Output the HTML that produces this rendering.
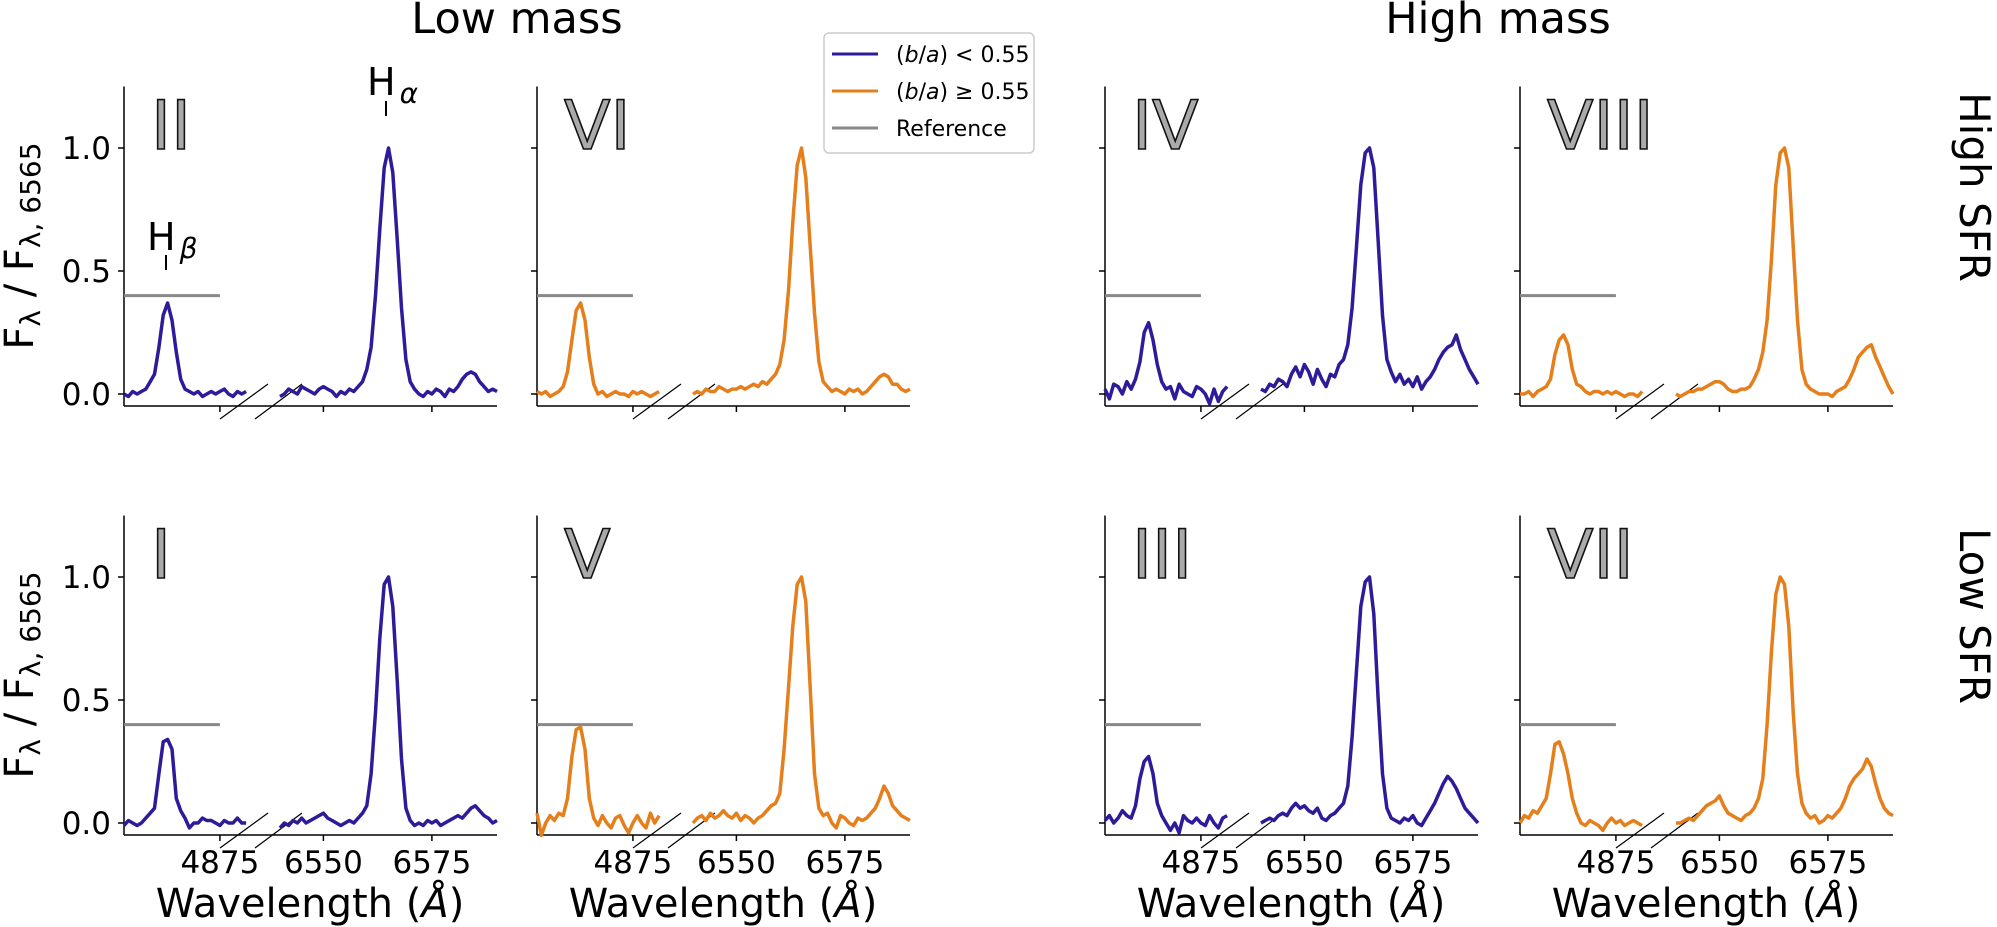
<!DOCTYPE html>
<html><head><meta charset="utf-8"><style>
html,body{margin:0;padding:0;background:#fff;}
svg{display:block;font-family:"DejaVu Sans","Liberation Sans",sans-serif;}
</style></head><body>
<svg id="fig" width="1997" height="927" viewBox="0 0 1997 927" xmlns="http://www.w3.org/2000/svg">
<text x="517" y="33" font-size="43" text-anchor="middle">Low mass</text>
<text x="1498" y="33" font-size="43" text-anchor="middle">High mass</text>
<text transform="translate(1960,187) rotate(90)" font-size="42" text-anchor="middle">High SFR</text>
<text transform="translate(1960,616) rotate(90)" font-size="42" text-anchor="middle">Low SFR</text>
<g transform="translate(45,8)">
<rect x="779" y="25" width="210" height="120" rx="5" fill="#fff" stroke="#ccc" stroke-width="1.5"/>
<line x1="787" y1="46" x2="833" y2="46" stroke="#2d1b9a" stroke-width="3"/>
<text x="851" y="54" font-size="22">(<tspan font-style="italic">b</tspan>/<tspan font-style="italic">a</tspan>) &lt; 0.55</text>
<line x1="787" y1="83" x2="833" y2="83" stroke="#e57f1c" stroke-width="3"/>
<text x="851" y="91" font-size="22">(<tspan font-style="italic">b</tspan>/<tspan font-style="italic">a</tspan>) ≥ 0.55</text>
<line x1="787" y1="120" x2="833" y2="120" stroke="#888" stroke-width="3"/>
<text x="851" y="128" font-size="22">Reference</text>
</g>
<g>
<text x="367" y="95" font-size="38">H<tspan font-size="28" font-style="italic" dx="4" dy="8">α</tspan></text>
<line x1="386" y1="101" x2="386" y2="116" stroke="#000" stroke-width="2"/>
</g>
<g>
<text x="147" y="250" font-size="38">H<tspan font-size="28" font-style="italic" dx="4" dy="8">β</tspan></text>
<line x1="166" y1="255" x2="166" y2="270" stroke="#000" stroke-width="2"/>
</g>
</svg>
<script>
// ---- data ----
const hbStart = 4853;   // first H-beta wavelength (1 Å steps)
const haStart = 6540;   // first H-alpha wavelength (1 Å steps)
const panelNames = ["II","VI","IV","VIII","I","V","III","VII"];
const panelColors = ["blue","orange","blue","orange","blue","orange","blue","orange"];
const yTicks = [0.0, 0.5, 1.0];
const yTickLabels = ["0.0","0.5","1.0"];
const xTicksHb = [4875];
const xTicksHa = [6550, 6575];
const refLevel = 0.4;
const hbII = [0,-0.01,0.01,0,0.01,0.02,0.05,0.08,0.19,0.32,0.37,0.3,0.17,0.06,0.02,0.01,0,0.01,-0.01,0,0.01,0,0.01,0.02,0,-0.01,0.01,0,0.01];
const haII = [-0.01,0,0.02,0.01,0,0.03,0.02,0.01,0.0,0.02,0.03,0.02,0.01,-0.01,0.01,0.0,0.02,0.01,0.03,0.05,0.1,0.19,0.4,0.67,0.92,1.0,0.9,0.63,0.35,0.14,0.05,0.02,0.0,-0.01,0.01,0,0.02,0.01,-0.01,0.02,0.01,0.03,0.06,0.08,0.09,0.08,0.05,0.03,0.01,0.02,0.01];
const hbVI = [0.01,0,0.01,-0.01,0.0,0.01,0.03,0.09,0.22,0.34,0.37,0.3,0.15,0.04,0.0,0.01,-0.01,0,0.01,0,0,-0.01,0.01,0,0.01,0,-0.01,0,0.01];
const haVI = [0,0.01,0,0.02,0.01,0.01,0.03,0.02,0.01,0.02,0.02,0.03,0.02,0.03,0.04,0.03,0.05,0.04,0.06,0.08,0.12,0.22,0.42,0.7,0.93,1.0,0.88,0.6,0.33,0.13,0.05,0.03,0.01,0.02,0.01,0.0,0.02,0.01,0.02,0.0,0.01,0.03,0.05,0.07,0.08,0.07,0.04,0.04,0.02,0.01,0.02];
const hbIV = [0.02,-0.02,0.04,0.03,0.0,0.05,0.02,0.06,0.13,0.25,0.29,0.22,0.12,0.05,0.02,0.03,-0.02,0.04,0.01,0.0,-0.01,0.03,0.02,0.0,-0.04,0.02,-0.03,0.01,0.03];
const haIV = [0.02,0.01,0.04,0.03,0.06,0.05,0.03,0.08,0.11,0.07,0.12,0.09,0.04,0.1,0.06,0.03,0.08,0.07,0.12,0.14,0.2,0.35,0.6,0.85,0.98,1.0,0.92,0.62,0.32,0.14,0.09,0.05,0.08,0.04,0.06,0.03,0.07,0.02,0.05,0.07,0.1,0.14,0.17,0.19,0.2,0.24,0.18,0.14,0.1,0.07,0.04];
const hbVIII = [0,0.0,0.01,-0.01,0.01,0.02,0.03,0.06,0.16,0.22,0.24,0.2,0.1,0.04,0.03,0.01,0.0,0.01,0.01,0,0.01,0.0,0.01,0,-0.01,0.0,0.0,-0.01,0.01];
const haVIII = [0,-0.01,0.0,0.01,0.01,0.02,0.02,0.03,0.04,0.05,0.05,0.04,0.02,0.01,0.01,0.02,0.02,0.03,0.06,0.1,0.17,0.3,0.55,0.85,0.98,1.0,0.92,0.6,0.3,0.1,0.04,0.02,0.01,0.0,0.0,0.0,-0.01,0.01,0.02,0.03,0.06,0.1,0.15,0.17,0.19,0.2,0.15,0.11,0.07,0.03,0.0];
const hbI = [-0.01,0.01,0,-0.01,0.0,0.02,0.04,0.06,0.2,0.33,0.34,0.3,0.1,0.05,0.02,-0.02,0.0,0.0,0.02,0.01,0.01,0,-0.01,0.01,0.0,0.0,0.02,0.0,0.0];
const haI = [-0.02,0.0,-0.01,0.01,0.0,0.02,0.0,0.01,0.02,0.03,0.04,0.02,0.01,0.0,-0.01,0.0,0.01,0.0,0.02,0.04,0.07,0.2,0.45,0.75,0.97,1.0,0.88,0.58,0.26,0.06,0.01,-0.01,0.0,-0.01,0.01,0.0,0.01,-0.01,0.0,0.01,0.02,0.03,0.02,0.04,0.06,0.07,0.05,0.03,0.02,0.0,0.01];
const hbV = [0.04,-0.05,0.0,0.03,0.01,0.04,0.03,0.1,0.27,0.38,0.39,0.3,0.1,0.02,-0.01,0.03,0.0,-0.02,0.02,0.03,-0.01,-0.04,0.0,0.03,0.0,-0.02,0.04,0.0,0.03];
const haV = [0.0,0.02,0.03,0.01,0.04,0.02,0.03,0.05,0.03,0.02,0.04,0.01,0.03,0.02,0.0,0.02,0.03,0.05,0.07,0.08,0.12,0.3,0.55,0.8,0.97,1.0,0.9,0.55,0.2,0.06,0.03,0.04,0.0,-0.02,0.03,0.02,0.0,-0.01,0.02,0.01,0.02,0.04,0.06,0.1,0.15,0.12,0.07,0.05,0.03,0.02,0.01];
const hbIII = [0.01,0.03,0.0,0.02,0.05,0.03,0.02,0.07,0.18,0.25,0.27,0.2,0.08,0.03,0.0,-0.03,0.0,-0.04,0.03,0.01,0.0,0.02,0.0,-0.01,0.03,0.0,-0.02,0.02,0.03];
const haIII = [0.0,0.01,0.02,0.01,0.03,0.04,0.03,0.06,0.08,0.06,0.07,0.05,0.04,0.06,0.02,0.01,0.03,0.04,0.06,0.08,0.15,0.35,0.62,0.88,0.98,1.0,0.85,0.5,0.2,0.06,0.02,0.01,0.0,0.02,0.01,0.03,0.0,-0.01,0.02,0.05,0.08,0.12,0.16,0.19,0.17,0.14,0.1,0.06,0.04,0.02,0.0];
const hbVII = [0.0,0.03,0.02,0.05,0.04,0.07,0.1,0.2,0.32,0.33,0.28,0.2,0.1,0.04,0.0,-0.01,0.01,0.0,-0.01,-0.03,0.0,0.02,0.0,0.01,-0.01,0.0,0.01,0.0,-0.01];
const haVII = [0.0,0.0,0.01,0.02,0.01,0.03,0.05,0.07,0.08,0.09,0.11,0.07,0.04,0.03,0.02,0.01,0.03,0.04,0.06,0.1,0.18,0.4,0.7,0.93,1.0,0.97,0.8,0.45,0.2,0.08,0.04,0.02,0.03,0.0,0.01,0.03,0.02,0.04,0.06,0.1,0.15,0.18,0.2,0.22,0.26,0.23,0.16,0.1,0.06,0.04,0.03];
const hbSeries = [hbII, hbVI, hbIV, hbVIII, hbI, hbV, hbIII, hbVII];
const haSeries = [haII, haVI, haIV, haVIII, haI, haV, haIII, haVII];

// ---- layout ----
const NS = "http://www.w3.org/2000/svg";
const svg = document.getElementById('fig');
const colX = [124, 537, 1105, 1520];
const rowY0 = [394, 823];
const PXY = 246, PXHB = 4.36, PXHA = 4.34, HA_OFF = 156, AXW = 373;
const COL = {blue: "#2d1b9a", orange: "#e57f1c"};
function mk(tag, attrs, parent) {
  const e = document.createElementNS(NS, tag);
  for (const k in attrs) e.setAttribute(k, attrs[k]);
  (parent || svg).appendChild(e);
  return e;
}
function yS(y0, v) { return y0 - v * PXY; }
function xHb(sx, w) { return sx + (w - hbStart) * PXHB; }
function xHa(sx, w) { return sx + HA_OFF + (w - haStart) * PXHA; }

panelNames.forEach((nm, i) => {
  const r = Math.floor(i / 4), c = i % 4;
  const sx = colX[c], y0 = rowY0[r];
  const g = mk('g', {});
  
  
  const ls = mk('line', {x1: sx, y1: y0 - 1.25 * PXY, x2: sx, y2: y0 + 12, stroke: '#000', 'stroke-width': 1.5}, g);
  
  
  const bs = mk('line', {x1: sx, y1: y0 + 12, x2: sx + AXW, y2: y0 + 12, stroke: '#000', 'stroke-width': 1.5}, g);
  
  
  yTicks.forEach((t, k) => {
    const ty = yS(y0, t);
    const tk = mk('line', {x1: sx - 6, y1: ty, x2: sx, y2: ty, stroke: '#000', 'stroke-width': 1.5}, g);
    
    
    if (c === 0) {
      const tl = mk('text', {x: sx - 13, y: ty + 11, 'font-size': 31, 'text-anchor': 'end'}, g);
      tl.textContent = yTickLabels[k];
      
      
    }
  });
  const xt = xTicksHb.map(w => [xHb(sx, w), w]).concat(xTicksHa.map(w => [xHa(sx, w), w]));
  xt.forEach(([px, w]) => {
    const tk = mk('line', {x1: px, y1: y0 + 12, x2: px, y2: y0 + 18, stroke: '#000', 'stroke-width': 1.5}, g);
    
    
    if (r === 1) {
      const tl = mk('text', {x: px, y: y0 + 50, 'font-size': 31, 'text-anchor': 'middle'}, g);
      tl.textContent = String(w);
      
      
    }
  });
  const b1 = mk('line', {x1: sx + 96, y1: y0 + 25, x2: sx + 144, y2: y0 - 10, stroke: '#000', 'stroke-width': 1.2}, g);
  
  
  const b2 = mk('line', {x1: sx + 131, y1: y0 + 25, x2: sx + 178, y2: y0 - 10, stroke: '#000', 'stroke-width': 1.2}, g);
  
  
  const rl = mk('line', {x1: sx, y1: yS(y0, refLevel), x2: xHb(sx, 4875), y2: yS(y0, refLevel), stroke: '#888', 'stroke-width': 3}, g);
  
  
  const col = COL[panelColors[i]];
  const hbPts = hbSeries[i].map((v, k) => xHb(sx, hbStart + k).toFixed(1) + ',' + yS(y0, v).toFixed(1)).join(' ');
  const p1 = mk('polyline', {points: hbPts, fill: 'none', stroke: col, 'stroke-width': 3.5, 'stroke-linejoin': 'round'}, g);
  
  
  const haPts = haSeries[i].map((v, k) => xHa(sx, haStart + k).toFixed(1) + ',' + yS(y0, v).toFixed(1)).join(' ');
  const p2 = mk('polyline', {points: haPts, fill: 'none', stroke: col, 'stroke-width': 3.5, 'stroke-linejoin': 'round'}, g);
  
  
  const rn = mk('text', {x: sx + 27, y: yS(y0, 1.0) + 1, 'font-size': 68, fill: '#aaa', stroke: '#111', 'stroke-width': 1.6}, g);
  rn.textContent = nm;
  
  
  if (r === 1) {
    const xl = mk('text', {x: sx + 186, y: 917, 'font-size': 40, 'text-anchor': 'middle'}, g);
    xl.innerHTML = 'Wavelength (<tspan font-style="italic">Å</tspan>)';
    
    
  }
});
rowY0.forEach((y0) => {
  const cy = y0 - 148;
  const yl = mk('text', {transform: 'translate(33,' + cy + ') rotate(-90)', 'font-size': 40, 'text-anchor': 'middle'});
  yl.innerHTML = 'F<tspan font-size="28" dy="7">λ</tspan><tspan dy="-7"> / F</tspan><tspan font-size="28" dy="7">λ, 6565</tspan>';
  
  
});
</script>
</body></html>
